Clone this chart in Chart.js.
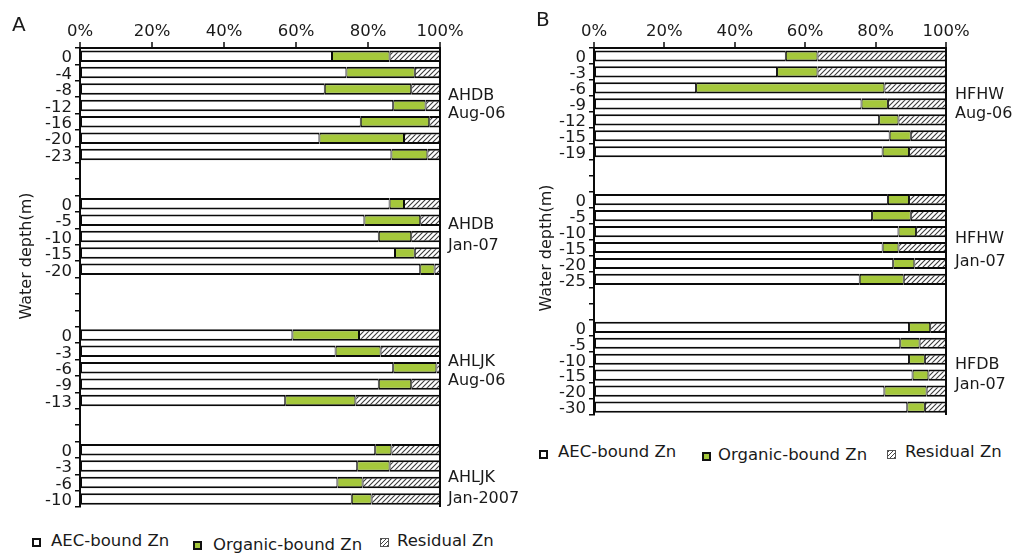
<!DOCTYPE html>
<html>
<head>
<meta charset="utf-8">
<script src="https://cdn.jsdelivr.net/npm/chart.js@4.4.1/dist/chart.umd.min.js"></script>
<style>
  body { margin: 0; background: #fff; font-family: 'DejaVu Sans', sans-serif; color: #1a1a1a; }
  #wrap { position: relative; width: 1016px; height: 558px; overflow: hidden; }
  canvas { position: absolute; top: 0; }
  .txt { position: absolute; white-space: nowrap; font-size: 16px; }
  .panel { position: absolute; font-size: 20px; line-height: 24px; }
  .ytitle { position: absolute; font-size: 16px; white-space: nowrap; transform: translate(-50%, -50%) rotate(-90deg); }
  .leg { position: absolute; font-size: 16.5px; line-height: 18px; white-space: nowrap; }
  .sw { position: absolute; width: 5px; height: 5px; border: 2px solid #111; background: #fff; }
  .sw.org { background: #a5c83c; }
  .sw.res { border: 1px solid #555; width: 7px; height: 7px;
    background: repeating-linear-gradient(135deg, #444 0 1px, #fff 1px 3px); }
</style>
</head>
<body>
<div id="wrap">
  <canvas id="chartA" width="500" height="520" style="left:0"></canvas>
  <canvas id="chartB" width="516" height="428" style="left:500px"></canvas>

  <div class="panel" style="left:12px;top:12px">A</div>
  <div class="panel" style="left:536px;top:7px">B</div>

  <div class="ytitle" style="left:25px;top:256px">Water depth(m)</div>
  <div class="ytitle" style="left:545px;top:248px">Water depth(m)</div>

  <div class="txt" style="left:448px;top:86px;line-height:18px">AHDB<br>Aug-06</div>
  <div class="txt" style="left:448px;top:213px;line-height:21px">AHDB<br>Jan-07</div>
  <div class="txt" style="left:448px;top:351px;line-height:19px">AHLJK<br>Aug-06</div>
  <div class="txt" style="left:448px;top:466px;line-height:21px">AHLJK<br>Jan-2007</div>

  <div class="txt" style="left:955px;top:84px;line-height:19px">HFHW<br>Aug-06</div>
  <div class="txt" style="left:955px;top:226px;line-height:23px">HFHW<br>Jan-07</div>
  <div class="txt" style="left:955px;top:354px;line-height:20px">HFDB<br>Jan-07</div>

  <div class="sw" style="left:32px;top:538px"></div>
  <div class="leg" style="left:51px;top:532px">AEC-bound Zn</div>
  <div class="sw org" style="left:193px;top:541px"></div>
  <div class="leg" style="left:213px;top:536px">Organic-bound Zn</div>
  <div class="sw res" style="left:380px;top:538px"></div>
  <div class="leg" style="left:397px;top:532px">Residual Zn</div>

  <div class="sw" style="left:539px;top:450px"></div>
  <div class="leg" style="left:558px;top:443px">AEC-bound Zn</div>
  <div class="sw org" style="left:702px;top:452px"></div>
  <div class="leg" style="left:718px;top:446px">Organic-bound Zn</div>
  <div class="sw res" style="left:887px;top:450px"></div>
  <div class="leg" style="left:905px;top:443px">Residual Zn</div>
</div>

<script>
// Panel A - depths (empty slots are the gaps between sites)
const labelsA = ['0', '-4', '-8', '-12', '-16', '-20', '-23', '', '',
  '0', '-5', '-10', '-15', '-20', '', '', '',
  '0', '-3', '-6', '-9', '-13', '', '',
  '0', '-3', '-6', '-10'];
const aecA = [70, 74, 68, 87, 78, 66.5, 86.5, null, null,
  86, 79, 83, 87.5, 94.5, null, null, null,
  59, 71, 87, 83, 57, null, null,
  82, 77, 71.5, 75.5];
const orgA = [16, 19, 24, 9, 19, 23.5, 10, null, null,
  4, 15.5, 9, 5.5, 4, null, null, null,
  18.5, 12.5, 12, 9, 19.5, null, null,
  4.5, 9, 7, 5.5];
const resA = [14, 7, 8, 4, 3, 10, 3.5, null, null,
  10, 5.5, 8, 7, 1.5, null, null, null,
  22.5, 16.5, 1, 8, 23.5, null, null,
  13.5, 14, 21.5, 19];

// Panel B
const labelsB = ['0', '-3', '-6', '-9', '-12', '-15', '-19', '', '',
  '0', '-5', '-10', '-15', '-20', '-25', '', '',
  '0', '-5', '-10', '-15', '-20', '-30'];
const aecB = [54.5, 52, 29, 76, 81, 84, 82, null, null,
  83.5, 79, 86.5, 82, 85, 75.5, null, null,
  89.5, 87, 89.5, 90.5, 82.5, 89];
const orgB = [9, 11.5, 53.5, 7.5, 5.5, 6, 7.5, null, null,
  6, 11, 5, 4.5, 6, 12.5, null, null,
  6, 5.5, 4.5, 4.5, 12, 5];
const resB = [36.5, 36.5, 17.5, 16.5, 13.5, 10, 10.5, null, null,
  10.5, 10, 8.5, 13.5, 9, 12, null, null,
  4.5, 7.5, 6, 5, 5.5, 6];

const xTicks = [0, 20, 40, 60, 80, 100];

const fontFamily = "'DejaVu Sans', sans-serif";
const ink = '#0a0a0a';
const green = '#a5c83c';

// motif hachuré pour la fraction résiduelle
function makeHatch() {
  const c = document.createElement('canvas');
  c.width = 5; c.height = 5;
  const g = c.getContext('2d');
  g.fillStyle = '#fff';
  g.fillRect(0, 0, 5, 5);
  g.strokeStyle = '#3a3a3a';
  g.lineWidth = 1.1;
  g.beginPath();
  g.moveTo(0, 5); g.lineTo(5, 0);
  g.moveTo(-1, 1); g.lineTo(1, -1);
  g.moveTo(4, 6); g.lineTo(6, 4);
  g.stroke();
  return g.createPattern(c, 'repeat');
}
const hatch = makeHatch();

function barSet(label, data, fill) {
  return {
    label: label,
    data: data,
    backgroundColor: fill,
    borderColor: ink,
    borderWidth: { top: 2, bottom: 2, left: 1, right: 1 },
    borderSkipped: false,
    barPercentage: 0.7,
    categoryPercentage: 1.0
  };
}

function makeChart(id, labels, aec, org, res, yWidth, padRight, padBottom) {
  return new Chart(document.getElementById(id), {
    type: 'bar',
    data: {
      labels: labels,
      datasets: [
        barSet('AEC-bound Zn', aec, '#fff'),
        barSet('Organic-bound Zn', org, green),
        barSet('Residual Zn', res, hatch)
      ]
    },
    options: {
      indexAxis: 'y',
      responsive: false,
      animation: false,
      layout: { padding: { left: 0, right: padRight, top: 7, bottom: padBottom } },
      plugins: { legend: { display: false }, tooltip: { enabled: false } },
      scales: {
        x: {
          position: 'top',
          stacked: true,
          min: 0,
          max: 100,
          afterBuildTicks: function (scale) {
            scale.ticks = xTicks.map(v => ({ value: v }));
          },
          ticks: {
            callback: v => v + '%',
            color: '#1a1a1a',
            font: { family: fontFamily, size: 16.5 },
            padding: 0,
            maxRotation: 0
          },
          grid: {
            drawOnChartArea: true,
            color: ctx => (ctx.tick && ctx.tick.value === 100) ? ink : 'rgba(0,0,0,0)',
            lineWidth: 2,
            tickLength: 6,
            tickColor: ink,
            tickWidth: 1.5
          },
          border: { display: true, color: ink, width: 2 },
          afterFit: s => { s.height = 41; }
        },
        y: {
          stacked: true,
          ticks: {
            color: '#1a1a1a',
            font: { family: fontFamily, size: 16.5 },
            padding: 3,
            labelOffset: 2,
            autoSkip: false
          },
          grid: {
            offset: true,
            drawOnChartArea: false,
            tickLength: 5,
            color: ink,
            tickColor: ink,
            lineWidth: 1.5
          },
          border: { display: true, color: ink, width: 2 },
          afterFit: s => { s.width = yWidth; }
        }
      }
    }
  });
}

makeChart('chartA', labelsA, aecA, orgA, resA, 80, 60, 5);
makeChart('chartB', labelsB, aecB, orgB, resB, 94, 70, 5);
</script>
</body>
</html>
